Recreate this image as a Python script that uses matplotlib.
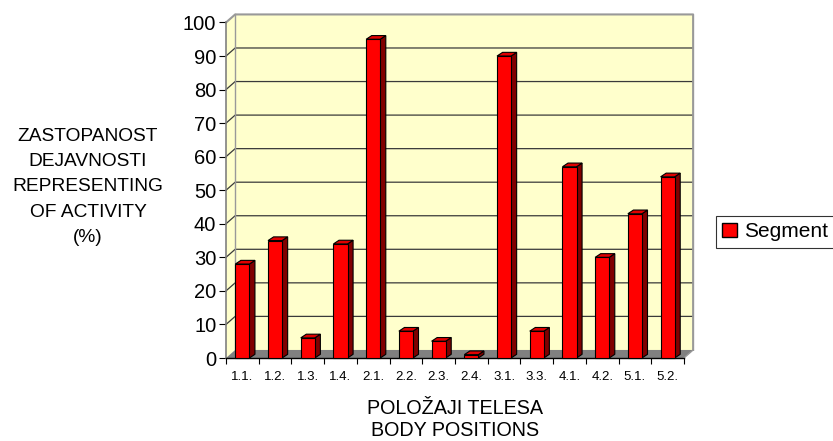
import numpy as np
import matplotlib.pyplot as plt
from matplotlib.patches import Polygon, Rectangle, Patch

# data
categories = ['1.1.', '1.2.', '1.3.', '1.4.', '2.1.', '2.2.', '2.3.', '2.4.',
              '3.1.', '3.3.', '4.1.', '4.2.', '5.1.', '5.2.']
values = [28, 35, 6, 34, 95, 8, 5, 1, 90, 8, 57, 30, 43, 54]
y_ticks = list(range(0, 101, 10))
series_name = 'Segment'
y_label = 'ZASTOPANOST\nDEJAVNOSTI\nREPRESENTING\nOF ACTIVITY\n(%)'
x_label = 'POLOŽAJI TELESA\nBODY POSITIONS'

plt.rcParams['font.family'] = ['Liberation Sans', 'DejaVu Sans']

fig = plt.figure(figsize=(8.33, 4.41), dpi=100)
ax = fig.add_axes([0.2713, 0.1882, 0.5498, 0.7608])

n = len(categories)
x = np.arange(n)
x0, x1 = -0.5, n - 0.5
ymax = y_ticks[-1]
ax.set_xlim(x0, x1)
ax.set_ylim(0, ymax)
for s in ax.spines.values():
    s.set_visible(False)

# fake 3D depth (data units)
wdx, wdy = 0.28, 2.4     # walls
bw, bdx, bdy = 0.43, 0.17, 1.1   # bars

wall_c = '#FFFFCC'
edge_c = '#999999'

# back wall, left wall, floor
ax.add_patch(Polygon([(x0 + wdx, wdy), (x1 + wdx, wdy), (x1 + wdx, ymax + wdy), (x0 + wdx, ymax + wdy)],
                     closed=True, fc=wall_c, ec='none', clip_on=False, zorder=0))
ax.add_patch(Polygon([(x0, 0), (x0 + wdx, wdy), (x0 + wdx, ymax + wdy), (x0, ymax)],
                     closed=True, fc=wall_c, ec='none', clip_on=False, zorder=0))
ax.add_patch(Polygon([(x0, 0), (x1, 0), (x1 + wdx, wdy), (x0 + wdx, wdy)],
                     closed=True, fc='#808080', ec='none', clip_on=False, zorder=1))

# gridlines across side + back wall
for v in y_ticks[1:-1]:
    ax.plot([x0, x0 + wdx, x1 + wdx], [v, v + wdy, v + wdy], color='#3a3a3a', lw=0.9,
            clip_on=False, zorder=1)

# wall edges
ax.plot([x0, x0 + wdx, x1 + wdx, x1 + wdx], [ymax, ymax + wdy, ymax + wdy, wdy],
        color=edge_c, lw=1.5, clip_on=False, zorder=1)
ax.plot([x0 + wdx, x0 + wdx], [wdy, ymax + wdy], color=edge_c, lw=1.0, clip_on=False, zorder=1)
ax.plot([x1, x1 + wdx], [0, wdy], color=edge_c, lw=1.0, clip_on=False, zorder=1)
ax.plot([x0, x0], [0, ymax], color='#808080', lw=1.2, clip_on=False, zorder=2)
ax.plot([x0, x1], [0, 0], color='black', lw=1.0, clip_on=False, zorder=2)

# bars
for xi, v in zip(x, values):
    l, r = xi - bw / 2, xi + bw / 2
    ax.add_patch(Polygon([(r, 0), (r + bdx, bdy), (r + bdx, v + bdy), (r, v)],
                         closed=True, fc='#800000', ec='black', lw=0.8, zorder=3, clip_on=False))
    ax.add_patch(Polygon([(l, v), (r, v), (r + bdx, v + bdy), (l + bdx, v + bdy)],
                         closed=True, fc='#E00000', ec='black', lw=0.8, zorder=3, clip_on=False))
    ax.add_patch(Rectangle((l, 0), bw, v, fc='#FF0000', ec='black', lw=0.8, zorder=4, clip_on=False))

# ticks
ax.set_yticks(y_ticks)
ax.tick_params(axis='y', length=5, width=0.8, pad=2, labelsize=14.5, direction='out')
ax.set_xticks(x, categories)
ax.set_xticks(np.arange(x0, x1 + 0.01, 1), minor=True)
ax.tick_params(axis='x', which='major', length=0, pad=9, labelsize=9.5)
ax.tick_params(axis='x', which='minor', length=4.5, width=0.8, direction='out')

# axis titles
fig.text(88 / 833, 1 - 187 / 441, y_label, ha='center', va='center', fontsize=13.8,
         linespacing=1.62)
fig.text(455 / 833, 1 - 419 / 441, x_label, ha='center', va='center', fontsize=14.2,
         linespacing=1.2)

# legend
leg = ax.legend(handles=[Patch(fc='#FF0000', ec='black', label=series_name)],
                loc='center left', bbox_to_anchor=(716 / 833, 1 - 232 / 441),
                bbox_transform=fig.transFigure, fontsize=15, frameon=True, fancybox=False,
                handlelength=0.7, handleheight=0.7, handletextpad=0.35, borderpad=0.3,
                borderaxespad=0)
leg.get_frame().set_edgecolor('black')
leg.get_frame().set_linewidth(0.8)

fig.savefig('out.png', dpi=100)
